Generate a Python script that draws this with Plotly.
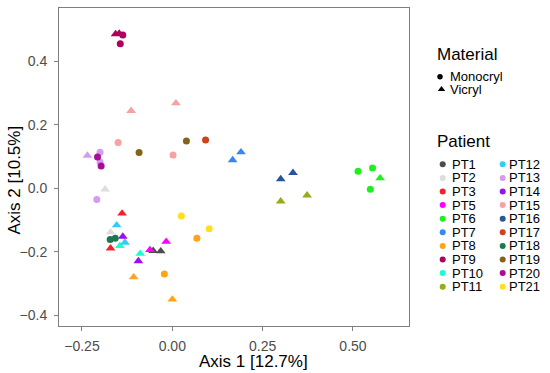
import plotly.graph_objects as go

# ---------------- data ----------------
patients = ["PT1", "PT2", "PT3", "PT5", "PT6", "PT7", "PT8", "PT9", "PT10", "PT11",
            "PT12", "PT13", "PT14", "PT15", "PT16", "PT17", "PT18", "PT19", "PT20", "PT21"]
materials = ["Monocryl", "Vicryl"]

point_patient = ["PT1", "PT1", "PT2", "PT2", "PT3", "PT3", "PT5", "PT5",
                 "PT6", "PT6", "PT6", "PT6", "PT7", "PT7",
                 "PT8", "PT8", "PT8", "PT8", "PT9", "PT9", "PT9", "PT9",
                 "PT10", "PT10", "PT11", "PT11", "PT12", "PT12",
                 "PT13", "PT13", "PT13", "PT13", "PT14", "PT14",
                 "PT15", "PT15", "PT15", "PT15", "PT16", "PT16", "PT17",
                 "PT18", "PT18", "PT19", "PT19", "PT20", "PT20", "PT21", "PT21"]
point_material = ["Vicryl", "Vicryl", "Vicryl", "Vicryl", "Vicryl", "Vicryl", "Vicryl", "Vicryl",
                  "Monocryl", "Monocryl", "Monocryl", "Vicryl", "Vicryl", "Vicryl",
                  "Monocryl", "Monocryl", "Vicryl", "Vicryl", "Vicryl", "Vicryl", "Monocryl", "Monocryl",
                  "Vicryl", "Vicryl", "Vicryl", "Vicryl", "Vicryl", "Vicryl",
                  "Vicryl", "Monocryl", "Monocryl", "Monocryl", "Vicryl", "Vicryl",
                  "Vicryl", "Vicryl", "Monocryl", "Monocryl", "Vicryl", "Vicryl", "Monocryl",
                  "Monocryl", "Monocryl", "Monocryl", "Monocryl", "Monocryl", "Monocryl", "Monocryl", "Monocryl"]
axis1 = [-0.053, -0.032, -0.186, -0.171, -0.139, -0.171, -0.062, -0.017,
         0.514, 0.554, 0.548, 0.575, 0.167, 0.190,
         0.068, -0.022, -0.107, 0.000, -0.157, -0.147, -0.137, -0.144,
         -0.145, -0.089, 0.300, 0.373, -0.154, -0.131,
         -0.235, -0.200, -0.200, -0.209, -0.137, -0.094,
         -0.114, 0.010, -0.150, 0.002, 0.300, 0.334, 0.092,
         -0.172, -0.158, 0.039, -0.092, -0.207, -0.197, 0.025, 0.102]
axis2 = [-0.197, -0.198, -0.003, -0.138, -0.079, -0.189, -0.194, -0.168,
         0.054, 0.064, -0.003, 0.032, 0.089, 0.114,
         -0.157, -0.270, -0.280, -0.350, 0.486, 0.488, 0.483, 0.455,
         -0.181, -0.206, -0.041, -0.022, -0.116, -0.171,
         0.103, 0.114, 0.083, -0.035, -0.152, -0.229,
         0.244, 0.268, 0.144, 0.105, 0.029, 0.049, 0.152,
         -0.161, -0.157, 0.149, 0.113, 0.099, 0.070, -0.087, -0.127]

x_ticks = [-0.25, 0.0, 0.25, 0.5]
x_ticklabels = ["\u22120.25", "0.00", "0.25", "0.50"]
y_ticks = [-0.4, -0.2, 0.0, 0.2, 0.4]
y_ticklabels = ["\u22120.4", "\u22120.2", "0.0", "0.2", "0.4"]

# ---------------- styles ----------------
patient_colors = {
    "PT1": "#4F4A4F", "PT2": "#DDDDDD", "PT3": "#F5202E", "PT5": "#FF00FF",
    "PT6": "#1EF01E", "PT7": "#3388F5", "PT8": "#FFA31A", "PT9": "#B0005E",
    "PT10": "#1EFAD2", "PT11": "#99AA1A", "PT12": "#33CCF5", "PT13": "#D69AF0",
    "PT14": "#9B0EF5", "PT15": "#F7A1A1", "PT16": "#2B5599", "PT17": "#CC4419",
    "PT18": "#1A7A4D", "PT19": "#85621A", "PT20": "#AA0C9A", "PT21": "#FFE01A",
}
material_symbol = {"Monocryl": "circle", "Vicryl": "triangle-up"}
material_size = {"Monocryl": 7, "Vicryl": 8.5}

FONT = "Liberation Sans, Arial, sans-serif"
GREY = "#7F7F7F"

W, H = 550, 373
ML, MT, MB = 59, 8, 47
panel_right = 409

fig = go.Figure()

fig.add_trace(go.Scatter(
    x=axis1, y=axis2, mode="markers", showlegend=False, hoverinfo="skip",
    marker=dict(
        color=[patient_colors[p] for p in point_patient],
        symbol=[material_symbol[m] for m in point_material],
        size=[material_size[m] for m in point_material],
        opacity=1, line=dict(width=0),
    ),
    xaxis="x", yaxis="y",
))

# ---------------- legend (drawn on a pixel-unit overlay axis) ----------------
annotations = []
key_font = dict(family=FONT, size=13, color="black")
title_font = dict(family=FONT, size=17, color="black")

legend_left = 436.5
annotations.append(dict(x=legend_left, y=54, xref="x2", yref="y2", text="Material",
                        showarrow=False, xanchor="left", yanchor="middle",
                        font=title_font, borderpad=0, borderwidth=0))
mat_rows = [76.7, 89.3]
mat_key_x = [440.0, 441.5]
for m, yy, kx in zip(materials, mat_rows, mat_key_x):
    fig.add_trace(go.Scatter(
        x=[kx], y=[yy], mode="markers", showlegend=False, hoverinfo="skip",
        marker=dict(color="black", symbol=material_symbol[m],
                    size=5.5 if m == "Monocryl" else 6.5, line=dict(width=0)),
        xaxis="x2", yaxis="y2"))
    annotations.append(dict(x=449.5, y=yy, xref="x2", yref="y2", text=m,
                            showarrow=False, xanchor="left", yanchor="middle",
                            font=key_font, borderpad=0, borderwidth=0))

annotations.append(dict(x=legend_left, y=141, xref="x2", yref="y2", text="Patient",
                        showarrow=False, xanchor="left", yanchor="middle",
                        font=title_font, borderpad=0, borderwidth=0))
row0, row_h = 164.3, 13.6
col_x = [442.7, 502.7]
col_text_off = [8.8, 6.6]
per_col = 10
kx, ky, kc = [], [], []
for i, p in enumerate(patients):
    c, r = divmod(i, per_col)
    kx.append(col_x[c])
    ky.append(row0 + row_h * r)
    kc.append(patient_colors[p])
    annotations.append(dict(x=col_x[c] + col_text_off[c], y=row0 + row_h * r,
                            xref="x2", yref="y2", text=p, showarrow=False,
                            xanchor="left", yanchor="middle", font=key_font,
                            borderpad=0, borderwidth=0))
fig.add_trace(go.Scatter(
    x=kx, y=ky, mode="markers", showlegend=False, hoverinfo="skip",
    marker=dict(color=kc, symbol="circle", size=6, line=dict(width=0)),
    xaxis="x2", yaxis="y2"))

# ---------------- axis titles ----------------
annotations.append(dict(x=253, y=361, xref="x2", yref="y2", text="Axis 1 [12.7%]",
                        showarrow=False, xanchor="center", yanchor="middle",
                        font=title_font, borderpad=0, borderwidth=0))
annotations.append(dict(x=13.5, y=180, xref="x2", yref="y2", text="Axis 2 [10.5%]",
                        showarrow=False, xanchor="center", yanchor="middle",
                        textangle=-90, font=title_font, borderpad=0, borderwidth=0))

tick_font = dict(family=FONT, size=14, color="#4D4D4D")
fig.update_layout(
    width=W, height=H,
    margin=dict(l=0, r=0, t=0, b=0, pad=0, autoexpand=False),
    paper_bgcolor="white", plot_bgcolor="rgba(0,0,0,0)",
    font=dict(family=FONT),
    xaxis=dict(domain=[ML / W, panel_right / W], range=[-0.3136, 0.655],
               tickvals=x_ticks, ticktext=x_ticklabels, ticks="outside", ticklen=4,
               tickwidth=1, tickcolor=GREY, showline=True, linecolor=GREY, linewidth=1,
               mirror=True, showgrid=False, zeroline=False, tickfont=tick_font,
               anchor="y", ticklabelstandoff=3, automargin=False),
    yaxis=dict(domain=[MB / H, (H - MT) / H], range=[-0.4337, 0.568],
               tickvals=y_ticks, ticktext=y_ticklabels, ticks="outside", ticklen=4,
               tickwidth=1, tickcolor=GREY, showline=True, linecolor=GREY, linewidth=1,
               mirror=True, showgrid=False, zeroline=False, tickfont=tick_font,
               anchor="x", ticklabelstandoff=4, automargin=False),
    xaxis2=dict(domain=[0, 1], range=[0, W], visible=False, anchor="y2", fixedrange=True),
    yaxis2=dict(domain=[0, 1], range=[H, 0], visible=False, anchor="x2", fixedrange=True),
    annotations=annotations,
)

fig.write_html("out.html", config={"displayModeBar": False, "staticPlot": True},
               post_script="document.body.style.margin='0';document.body.style.overflow='hidden';")
